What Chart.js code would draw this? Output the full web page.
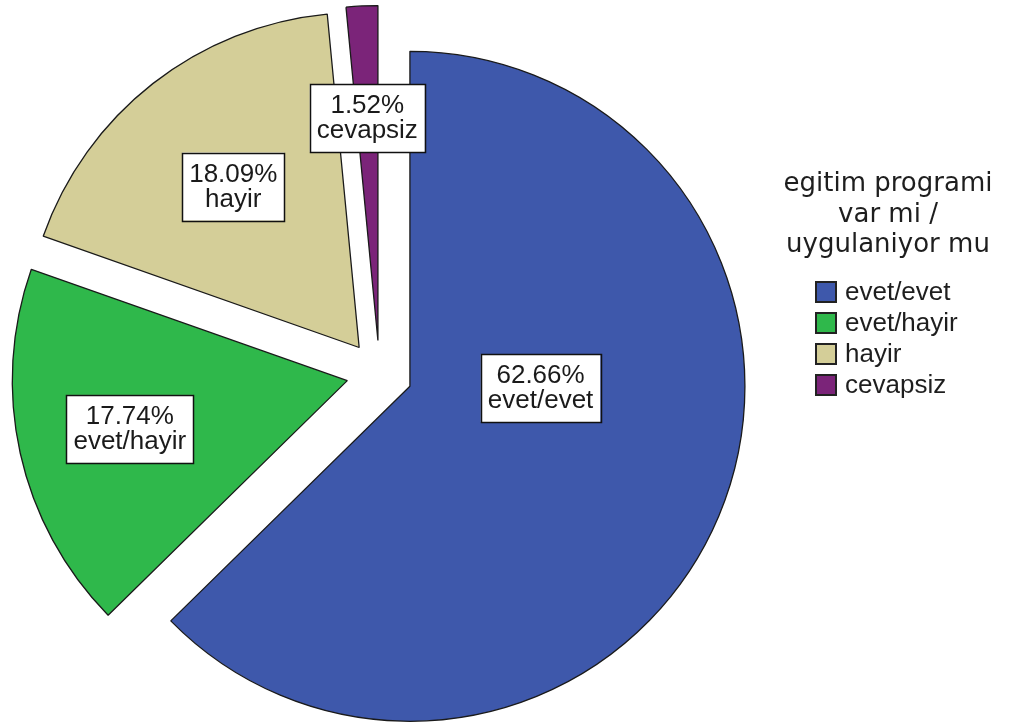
<!DOCTYPE html>
<html>
<head>
<meta charset="utf-8">
<script src="https://cdn.jsdelivr.net/npm/chart.js@4.4.1/dist/chart.umd.min.js"></script>
<style>
  body { margin: 0; background: #fff; }
  #wrap { position: relative; width: 1012px; height: 724px; }
  #legend { position: absolute; left: 768px; top: 167px; width: 240px; color: #1e1e1e; }
  #legend .title { font: 26px "DejaVu Sans", sans-serif; line-height: 30.5px; text-align: center; }
  #legend .items { position: absolute; left: 47px; top: 109px; }
  #legend .item { height: 31px; display: flex; align-items: center; font: 26px "Liberation Sans", Arial, sans-serif; }
  #legend .box { width: 22px; height: 22px; box-sizing: border-box; border: 2px solid #222; margin-right: 8px; }
</style>
</head>
<body>
<div id="wrap">
  <canvas id="pie" width="1012" height="724"></canvas>
  <div id="legend"></div>
</div>
<script>
/************** egitim programi pie ******/
var categories = ["evet/evet", "evet/hayir", "hayir", "cevapsiz"];
var percents = [62.66, 17.74, 18.09, 1.52];
var sliceColors = ["#3e58ab", "#2fb84b", "#d4ce98", "#7b2479"];
var legendTitle = ["egitim programi", "var mi /", "uygulaniyor mu"];

var EXPLODE = 33;        // every slice pulled out from the centre
var RADIUS = 335;
// label placement inside each slice: fraction of radius, and angle shift (deg)
var labelDist = [0.39, 0.665, 0.61, 0.665];
var labelShift = [-22, 0, 0, 0];

// push each arc out along its middle angle
var explodePlugin = {
  id: "explode",
  afterDatasetUpdate: function (chart, args) {
    chart.getDatasetMeta(args.index).data.forEach(function (arc) {
      if (arc._exploded) return;
      arc._exploded = true;
      var baseDraw = arc.draw;
      arc.draw = function (ctx, area) {
        var mid = (this.startAngle + this.endAngle) / 2;
        ctx.save();
        ctx.translate(Math.cos(mid) * EXPLODE, Math.sin(mid) * EXPLODE);
        baseDraw.call(this, ctx, area);
        ctx.restore();
      };
    });
  }
};

// boxed "xx.xx% / name" labels
var boxLabels = {
  id: "boxLabels",
  afterDatasetsDraw: function (chart) {
    var ctx = chart.ctx;
    var meta = chart.getDatasetMeta(0);
    ctx.save();
    ctx.font = '26px "Liberation Sans", Arial, sans-serif';
    ctx.textAlign = "center";
    ctx.textBaseline = "middle";
    meta.data.forEach(function (arc, i) {
      var mid = (arc.startAngle + arc.endAngle) / 2;
      var a = mid + labelShift[i] * Math.PI / 180;
      var r = arc.outerRadius * labelDist[i];
      var x = arc.x + Math.cos(mid) * EXPLODE + Math.cos(a) * r;
      var y = arc.y + Math.sin(mid) * EXPLODE + Math.sin(a) * r;
      var lines = [percents[i].toFixed(2) + "%", categories[i]];
      var w = Math.max(ctx.measureText(lines[0]).width, ctx.measureText(lines[1]).width) + 14;
      var h = 68;
      ctx.fillStyle = "#fff";
      ctx.fillRect(x - w / 2, y - h / 2, w, h);
      ctx.strokeStyle = "#111";
      ctx.lineWidth = 1.5;
      ctx.strokeRect(Math.round(x - w / 2) + 0.5, Math.round(y - h / 2) + 0.5, Math.round(w), h);
      ctx.fillStyle = "#1a1a1a";
      ctx.fillText(lines[0], x, y - 12);
      ctx.fillText(lines[1], x, y + 13);
    });
    ctx.restore();
  }
};

new Chart("pie", {
  type: "pie",
  data: {
    labels: categories,
    datasets: [{
      data: percents,
      backgroundColor: sliceColors,
      borderColor: "#1a1a1a",
      borderWidth: 1.3,
      radius: RADIUS,
      clip: false
    }]
  },
  options: {
    responsive: false,
    animation: false,
    layout: { padding: { left: 0, top: 23, right: 253, bottom: 0 } },
    plugins: {
      legend: { display: false },
      tooltip: { enabled: false }
    }
  },
  plugins: [explodePlugin, boxLabels]
});

// legend (title + swatches) built from the same arrays
var legend = document.getElementById("legend");
var html = '<div class="title">' + legendTitle.join("<br>") + '</div><div class="items">';
categories.forEach(function (c, i) {
  html += '<div class="item"><span class="box" style="background:' + sliceColors[i] + '"></span>' + c + '</div>';
});
legend.innerHTML = html + "</div>";
</script>
</body>
</html>
